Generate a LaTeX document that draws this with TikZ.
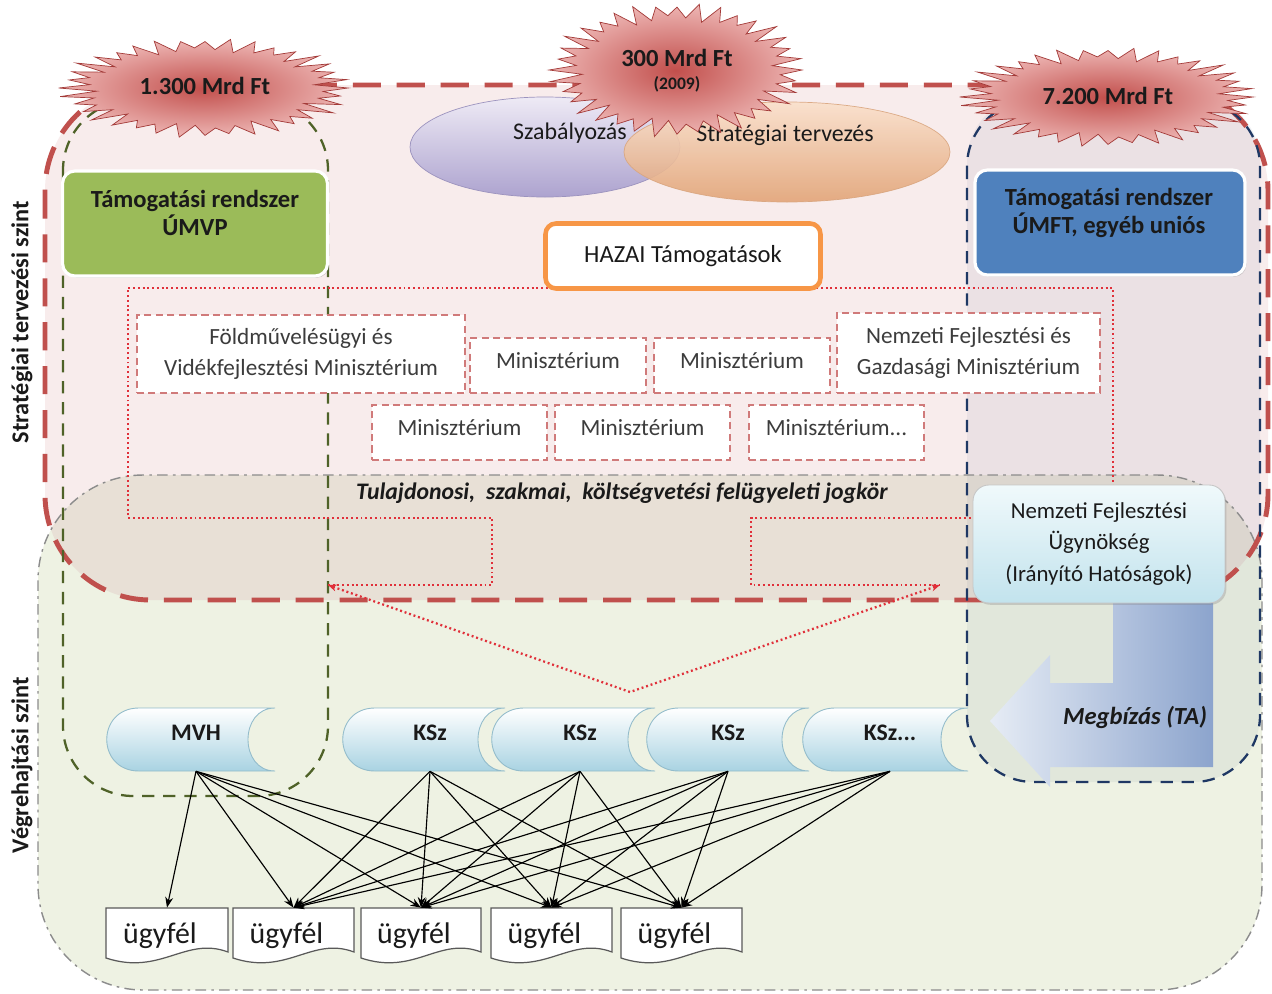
\documentclass[tikz,border=0pt]{standalone}
\usepackage{fontspec}
\setmainfont{Carlito}
\usetikzlibrary{arrows.meta,shadows,calc}

\definecolor{txt}{HTML}{1A1A1A}
\definecolor{redd}{HTML}{C0504D}
\definecolor{pinkbg}{HTML}{F8ECEC}
\definecolor{greenbg}{HTML}{EEF2E3}
\definecolor{overlapbg}{HTML}{E8E0D6}
\definecolor{olived}{HTML}{4F6228}
\definecolor{navyd}{HTML}{1F3864}
\definecolor{greybd}{HTML}{8C8C8C}
\definecolor{minred}{HTML}{D07A7A}
\definecolor{dotred}{HTML}{E0303A}
\definecolor{greenbox}{HTML}{9BBB59}
\definecolor{bluebox}{HTML}{4F81BD}
\definecolor{orangeb}{HTML}{F79646}
\definecolor{burstin}{HTML}{C24F4C}
\definecolor{burstout}{HTML}{EDB5B3}
\definecolor{burstedge}{HTML}{A33A38}
\definecolor{purtop}{HTML}{EEEAF5}
\definecolor{purbot}{HTML}{ADA3CF}
\definecolor{puredge}{HTML}{9C93BE}
\definecolor{ortop}{HTML}{FAE0CB}
\definecolor{orbot}{HTML}{E2A477}
\definecolor{oredge}{HTML}{D9A57E}
\definecolor{sdblue}{HTML}{A9D3E2}
\definecolor{sdedge}{HTML}{93BCCB}
\definecolor{docedge}{HTML}{595959}
\definecolor{nfutop}{HTML}{F0F9FB}
\definecolor{nfubot}{HTML}{C2E3ED}
\definecolor{arrL}{HTML}{E6ECF5}
\definecolor{arrR}{HTML}{8CA4CD}

\tikzset{
  txtbold/.style={font=\bfseries\fontsize{14}{16}\selectfont, align=center, text=txt},
  burstlbl/.style={font=\bfseries\fontsize{14}{16}\selectfont, text=txt, inner sep=0pt},
  sysbox/.style={rounded corners=7pt, draw=white, line width=1.8pt, inner sep=0pt,
     drop shadow={shadow xshift=0.8pt, shadow yshift=-1pt, opacity=0.35}},
  minbox/.style={draw=minred, line width=0.7pt, dash pattern=on 4pt off 2.5pt, fill=white,
     inner sep=0pt, align=center, font=\fontsize{13.2}{17.6}\selectfont, text=txt!85!white},
  dotline/.style={dotred, line width=1.3pt, dash pattern=on 1.1pt off 1.6pt},
  burstshade/.style={inner color=burstin, outer color=burstout, draw=burstedge, line width=0.4pt},
  sdshape/.style={top color=white, bottom color=sdblue, draw=sdedge, line width=0.5pt},
  sdnode/.style={minimum height=1.52cm, inner sep=0pt, font=\bfseries\fontsize{13.5}{15}\selectfont, text=txt},
  docnode/.style={minimum width=2.4cm, minimum height=0.88cm, inner sep=0pt, font=\fontsize{17}{19}\selectfont, text=txt},
  docshape/.style={fill=white, draw=docedge, line width=0.7pt},
  conn/.style={line width=0.65pt, black, -{Stealth[length=6pt,width=4.5pt]}},
  sidelbl/.style={rotate=90, font=\bfseries\fontsize{13.8}{15}\selectfont, text=txt}
}

\newcommand\mkburst[4]{%
  \begin{scope}[shift={(#1,#2)}]
    \shadedraw[burstshade] (0:#3 and #4)
      \foreach \k in {1,...,71}{ -- ({\k*5}:{(1-0.2*mod(\k,2)+0.04*sin(\k*131))*#3} and {(1-0.2*mod(\k,2)+0.04*sin(\k*131))*#4}) } -- cycle;
  \end{scope}}

\newcommand\mksdata[5]{%
  \shadedraw[sdshape] ({#2+32},708) -- (#3,708) .. controls ({#3-36},708) and ({#3-36},771) .. (#3,771)
     -- ({#2+32},771) .. controls ({#2-11},771) and ({#2-11},708) .. ({#2+32},708) -- cycle;
  \node[sdnode] (#1) at (#4,733) {#5};}

\newcommand\mkdoc[4]{%
  \filldraw[docshape] (#2,908) -- (#3,908) -- (#3,952)
     .. controls ({#3-0.35*(#3-#2)},936) and ({#2+0.45*(#3-#2)},976) .. (#2,958) -- cycle;
  \node[docnode] (#1) at ({(#2+#3)/2},930) {\rule{0pt}{18pt}#4\kern8pt\rule{0pt}{1pt}};}

\newcommand\upstrut{\rule[-6pt]{0pt}{6pt}}

\begin{document}
\begin{tikzpicture}[x=0.02cm, y=-0.02cm]
\fill[white] (0,0) rectangle (1272,994);
\path[use as bounding box] (0,0) rectangle (1272,994);

% region fills
\fill[pinkbg, rounded corners=60] (45,85) rectangle (1268,600);
\fill[greenbg, rounded corners=60] (38,475) rectangle (1262,990);
\begin{scope}
  \clip[rounded corners=60] (45,85) rectangle (1268,600);
  \fill[overlapbg, rounded corners=60] (38,475) rectangle (1262,990);
\end{scope}
\fill[navyd, opacity=0.06, rounded corners=38] (967,95) rectangle (1260,782);

% region borders
\draw[greybd, line width=0.8pt, dash pattern=on 6pt off 3pt on 1.5pt off 3pt, rounded corners=60] (38,475) rectangle (1262,990);
\draw[redd, line width=2.8pt, dash pattern=on 16pt off 9pt, rounded corners=60] (45,85) rectangle (1268,600);
\draw[olived, line width=1.3pt, dash pattern=on 7pt off 5pt, rounded corners=40] (63,100) rectangle (328,796);
\draw[navyd, line width=1.3pt, dash pattern=on 7pt off 5pt, rounded corners=38] (967,100) rectangle (1260,782);

% dotted red outline and V
\coordinate (dl) at (328,585);
\coordinate (dr) at (940,585);
\coordinate (dv) at (630,692);
\draw[dotline] (dl) -- (492,585) -- (492,518) -- (128,518) -- (128,288) -- (1113,288) -- (1113,518) -- (751,518) -- (751,585) -- (dr);
\draw[dotline, {Stealth[length=5pt,width=4pt]}-{Stealth[length=5pt,width=4pt]}] (dl) -- (dv) -- (dr);

% ellipses
\shadedraw[top color=purtop, bottom color=purbot, draw=puredge, line width=0.4pt] (545,147) ellipse (135 and 50);
\shadedraw[top color=ortop, bottom color=orbot, draw=oredge, line width=0.4pt, opacity=0.9] (787,152) ellipse (163 and 50);
\node[font=\fontsize{13.6}{15}\selectfont, text=txt] (szab) at (570,133) {Szabályozás};
\node[font=\fontsize{13.6}{15}\selectfont, text=txt] (strat) at (785,135) {Stratégiai tervezés};

% starbursts
\mkburst{205}{88}{143}{48}
\node[burstlbl] (b1) at (205,86) {1.300 Mrd Ft};
\mkburst{677}{70}{125}{65}
\node[burstlbl] (b2) at (677,58) {300 Mrd Ft};
\node[font=\bfseries\fontsize{10}{11}\selectfont, text=txt, inner sep=0pt] (b2y) at (677,84) {(2009)};
\mkburst{1108}{97}{145}{48}
\node[burstlbl] (b3) at (1108,96) {7.200 Mrd Ft};

% system boxes
\node[sysbox, fill=greenbox, minimum width=5.3cm, minimum height=2.1cm] (umvp) at (195,223.5) {};
\node[txtbold] (umvpt) at (195,213) {Támogatási rendszer\\ÚMVP};
\node[sysbox, fill=bluebox, minimum width=5.4cm, minimum height=2.1cm] (umft) at (1110,222.5) {};
\node[txtbold] (umftt) at (1109,213) {Támogatási rendszer\\ÚMFT, egyéb uniós};

% HAZAI
\node[draw=orangeb, line width=2.6pt, rounded corners=6pt, fill=white, minimum width=5.5cm, minimum height=1.3cm,
      font=\fontsize{14}{16}\selectfont, text=txt] (hazai) at (683,256) {HAZAI Támogatások};

% ministries
\node[minbox, minimum width=6.56cm, minimum height=1.56cm] (m1) at (301,354) {Földművelésügyi és\\Vidékfejlesztési Minisztérium};
\node[minbox, minimum width=3.52cm, minimum height=1.1cm] (m2) at (558,365.5) {Minisztérium\upstrut};
\node[minbox, minimum width=3.52cm, minimum height=1.1cm] (m3) at (742,365.5) {Minisztérium\upstrut};
\node[minbox, minimum width=5.26cm, minimum height=1.6cm] (m4) at (968.5,353) {Nemzeti Fejlesztési és\\Gazdasági Minisztérium};
\node[minbox, minimum width=3.5cm, minimum height=1.1cm] (m5) at (459.5,432.5) {Minisztérium\upstrut};
\node[minbox, minimum width=3.5cm, minimum height=1.1cm] (m6) at (642.5,432.5) {Minisztérium\upstrut};
\node[minbox, minimum width=3.5cm, minimum height=1.1cm] (m7) at (836.5,432.5) {Minisztérium...\upstrut};

% jogkör
\node[font=\bfseries\itshape\fontsize{13.5}{15}\selectfont, text=txt] (tul) at (622,493) {Tulajdonosi,\ \ szakmai,\ \ költségvetési felügyeleti jogkör};

% bent arrow
\shade[left color=arrL, right color=arrR] (1113,595) -- (1213,595) -- (1213,767) -- (1050,767) -- (1050,787) -- (990,721) -- (1050,655) -- (1050,683) -- (1113,683) -- cycle;
\node[font=\bfseries\itshape\fontsize{14}{16}\selectfont, text=txt] (megb) at (1135,717) {Megbízás (TA)};

% NFU
\node[rounded corners=9pt, top color=nfutop, bottom color=nfubot, draw=gray!45, line width=0.5pt,
      minimum width=5.04cm, minimum height=2.36cm, align=center, font=\fontsize{13}{18}\selectfont, text=txt,
      drop shadow={shadow xshift=0.8pt, shadow yshift=-1pt, opacity=0.3}] (nfu) at (1099,544)
      {Nemzeti Fejlesztési\\Ügynökség\\(Irányító Hatóságok)};

% stored data shapes
\mksdata{mvh}{107}{275}{196}{MVH}
\mksdata{k1}{343}{505}{430}{KSz}
\mksdata{k2}{492}{655}{580}{KSz}
\mksdata{k3}{647}{809}{728}{KSz}
\mksdata{k4}{803}{968}{890}{KSz...}

% clients
\mkdoc{u1}{106}{228}{ügyfél}
\mkdoc{u2}{233}{354}{ügyfél}
\mkdoc{u3}{361}{481}{ügyfél}
\mkdoc{u4}{491}{612}{ügyfél}
\mkdoc{u5}{621}{742}{ügyfél}

% connectors
\foreach \t in {u1,u2,u3,u4,u5} \draw[conn] (mvh.south) -- (\t.north);
\foreach \s in {k1,k2,k3,k4} \foreach \t in {u2,u3,u4,u5} \draw[conn] (\s.south) -- (\t.north);

% side labels
\node[sidelbl] (lab1) at (22,322) {Stratégiai tervezési szint};
\node[sidelbl] (lab2) at (22,765) {Végrehajtási szint};
\end{tikzpicture}
\end{document}
